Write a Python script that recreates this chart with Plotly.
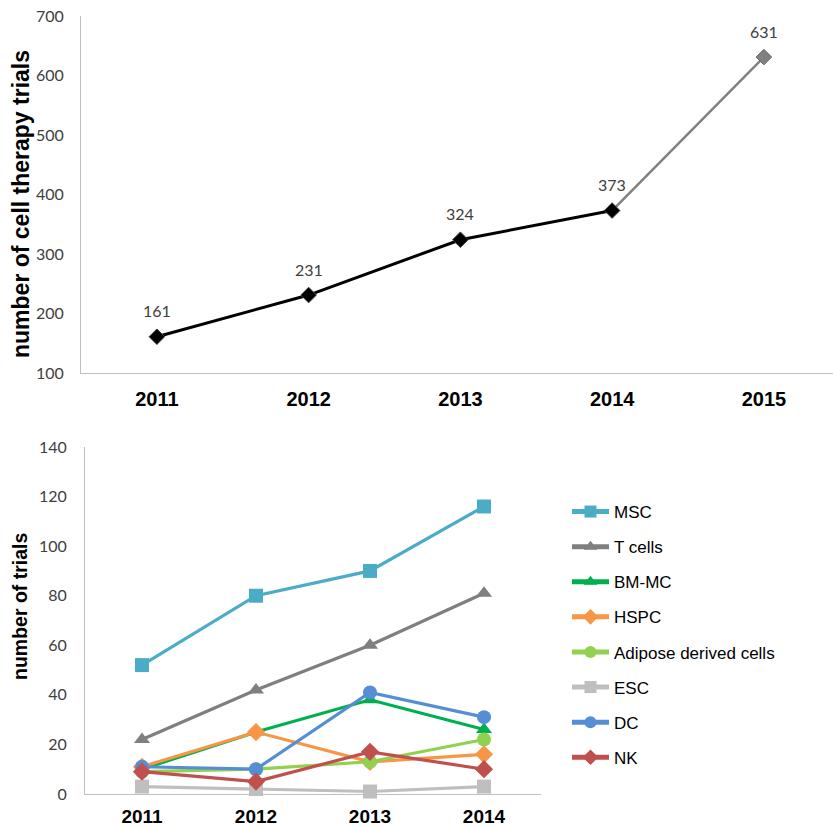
import plotly.graph_objects as go

# ---- data ----
years_top = ["2011", "2012", "2013", "2014", "2015"]
total_trials = [161, 231, 324, 373, 631]

years_bottom = ["2011", "2012", "2013", "2014"]
series_names = ["MSC", "T cells", "BM-MC", "HSPC", "Adipose derived cells", "ESC", "DC", "NK"]
msc = [52, 80, 90, 116]
t_cells = [22, 42, 60, 81]
bm_mc = [10, 25, 38, 26]
hspc = [11, 25, 13, 16]
adipose = [9, 10, 13, 22]
esc = [3, 2, 1, 3]
dc = [11, 10, 41, 31]
nk = [9, 5, 17, 10]
series_values = [msc, t_cells, bm_mc, hspc, adipose, esc, dc, nk]
series_colors = ["#4BACC6", "#7F7F7F", "#00B050", "#F79646", "#92D050", "#BFBFBF", "#558ED5", "#C0504D"]
series_symbols = ["square", "triangle-up", "triangle-up", "diamond", "circle", "square", "circle", "diamond"]

FW, FH = 833, 829


def px(X):
    return X / FW


def py(Y):
    return 1 - Y / FH


TICK_FONT = "Lato, sans-serif"
BOLD_FONT = "Arial, Liberation Sans, sans-serif"

fig = go.Figure()

# top chart: 2011-2014 black, 2014-2015 gray
fig.add_trace(go.Scatter(
    x=years_top[3:], y=total_trials[3:], mode="lines",
    line=dict(color="#808080", width=2.5),
    xaxis="x", yaxis="y", showlegend=False, cliponaxis=False, hoverinfo="skip"))
fig.add_trace(go.Scatter(
    x=years_top[:4], y=total_trials[:4], mode="lines+markers",
    line=dict(color="#000000", width=3),
    marker=dict(symbol="diamond", size=12, color="#000000", line=dict(color="#404040", width=1)),
    xaxis="x", yaxis="y", showlegend=False, cliponaxis=False, hoverinfo="x+y"))
fig.add_trace(go.Scatter(
    x=years_top[4:], y=total_trials[4:], mode="markers",
    marker=dict(symbol="diamond", size=12, color="#808080", line=dict(color="#6a6a6a", width=1)),
    xaxis="x", yaxis="y", showlegend=False, cliponaxis=False, hoverinfo="x+y"))

annotations = []
for i, v in enumerate(total_trials):
    annotations.append(dict(x=i, y=v, xref="x", yref="y", text=str(v), showarrow=False,
                            xanchor="center", yanchor="middle",
                            yshift=26, font=dict(family=TICK_FONT, size=16, color="#404040")))

# bottom chart
for name, vals, col, sym in zip(series_names, series_values, series_colors, series_symbols):
    fig.add_trace(go.Scatter(
        x=years_bottom, y=vals, name=name, mode="lines+markers",
        line=dict(color=col, width=3.2),
        marker=dict(symbol=sym, size=14, color=col),
        xaxis="x2", yaxis="y2", legendgroup=name, cliponaxis=False))

axis_line = "#BFBFBF"
top_range_end = -0.5 + (FW - 81) / 151.75
fig.update_layout(
    width=FW, height=FH,
    margin=dict(l=0, r=0, t=0, b=0, autoexpand=False),
    paper_bgcolor="white", plot_bgcolor="white",
    xaxis=dict(domain=[px(81), 1.0], range=[-0.5, top_range_end], type="category",
               categoryorder="array", categoryarray=years_top,
               showline=True, linecolor=axis_line, linewidth=1, showgrid=False, zeroline=False,
               ticks="", ticklabelstandoff=8, automargin=False,
               tickfont=dict(family=BOLD_FONT, size=20, color="#000000", weight="bold"),
               anchor="y", fixedrange=True),
    yaxis=dict(domain=[py(373), py(16)], range=[100, 700], dtick=100,
               showline=True, linecolor=axis_line, linewidth=1, showgrid=False, zeroline=False,
               ticks="", ticklabelstandoff=13, automargin=False,
               tickfont=dict(family=TICK_FONT, size=16, color="#404040"),
               anchor="x", fixedrange=True),
    xaxis2=dict(domain=[px(85), px(541)], range=[-0.5, 3.5], type="category",
                categoryorder="array", categoryarray=years_bottom,
                showline=True, linecolor=axis_line, linewidth=1, showgrid=False, zeroline=False,
                ticks="", ticklabelstandoff=5, automargin=False,
                tickfont=dict(family=BOLD_FONT, size=19, color="#000000", weight="bold"),
                anchor="y2", fixedrange=True),
    yaxis2=dict(domain=[py(794), py(447)], range=[0, 140], dtick=20,
                showline=True, linecolor=axis_line, linewidth=1, showgrid=False, zeroline=False,
                ticks="", ticklabelstandoff=14, automargin=False,
                tickfont=dict(family=TICK_FONT, size=16, color="#404040"),
                anchor="x2", fixedrange=True),
    legend=dict(x=px(567), y=py(494), xanchor="left", yanchor="top",
                font=dict(family=BOLD_FONT, size=17, color="#000000"),
                tracegroupgap=10, itemwidth=37, itemsizing="constant", bgcolor="rgba(0,0,0,0)",
                itemclick=False, itemdoubleclick=False),
    showlegend=True,
)

annotations.append(dict(x=px(21), y=py(204), xref="paper", yref="paper",
                        xanchor="center", yanchor="middle",
                        text="<b>number of cell therapy trials</b>", textangle=-90, showarrow=False,
                        font=dict(family=BOLD_FONT, size=23, color="#000000")))
annotations.append(dict(x=px(20), y=py(606), xref="paper", yref="paper",
                        xanchor="center", yanchor="middle",
                        text="<b>number of trials</b>", textangle=-90, showarrow=False,
                        font=dict(family=BOLD_FONT, size=19.5, color="#000000")))
fig.update_layout(annotations=annotations)

# remove the browser's default 8px body margin so the figure fills the window
fig.write_html("out.html", config={"displayModeBar": False},
               post_script="document.body.style.margin='0';")
